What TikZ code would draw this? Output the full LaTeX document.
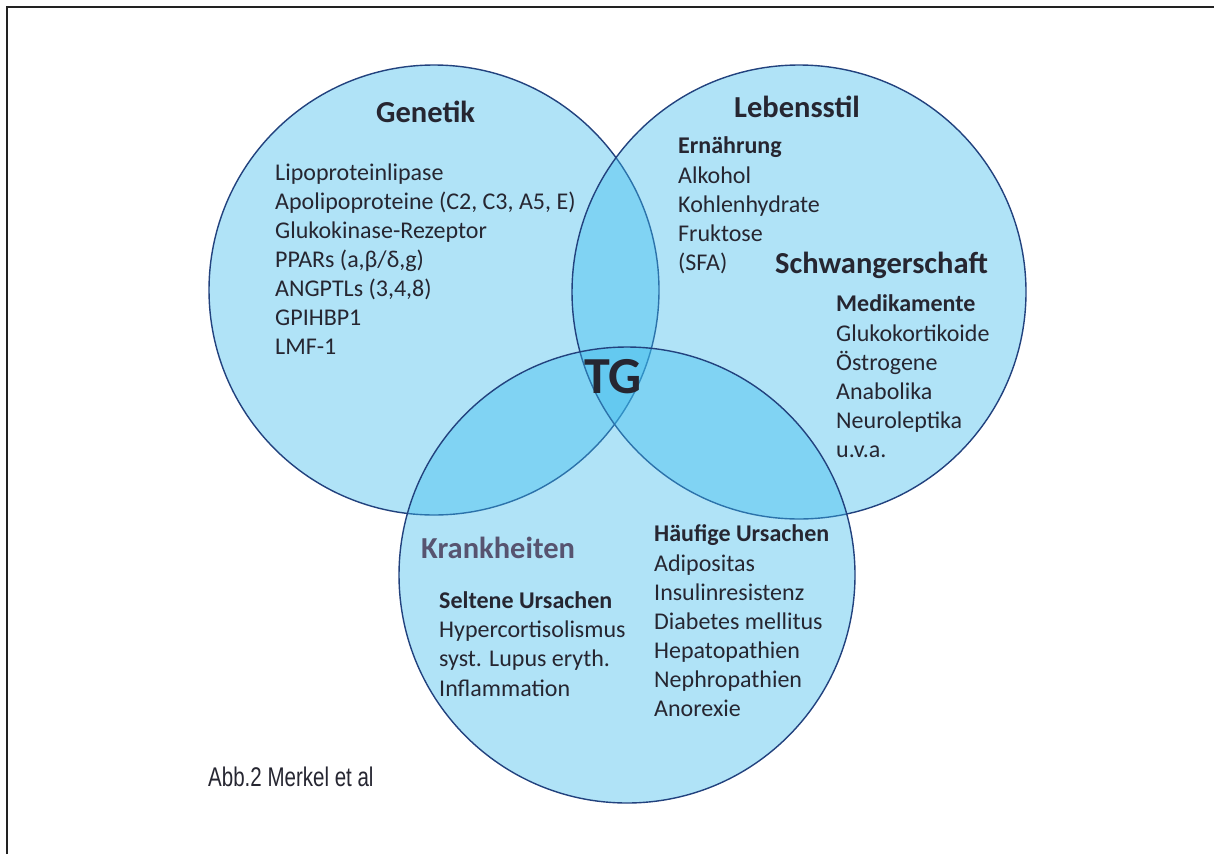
\documentclass[tikz,border=0pt]{standalone}
\usepackage{fontspec}
\setmainfont{Carlito}
\newfontfamily\abbfont[FakeStretch=0.76]{Liberation Sans}
\definecolor{vennfill}{HTML}{3ABBED}
\definecolor{vennline}{HTML}{22427E}
\definecolor{txt}{HTML}{262631}
\definecolor{krank}{HTML}{575470}
\definecolor{framec}{HTML}{222222}
\begin{document}
\begin{tikzpicture}[x=1pt,y=-1pt,
  venn/.style={draw=vennline, line width=1.4pt, fill=vennfill, fill opacity=0.4},
  head/.style={anchor=base west, inner sep=0, font=\fontsize{30.5}{36}\selectfont\bfseries, text=txt},
  sub/.style={anchor=base west, inner sep=0, font=\fontsize{24}{29}\selectfont\bfseries, text=txt},
  item/.style={anchor=base west, inner sep=0, font=\fontsize{24}{29}\selectfont, text=txt}]
\useasboundingbox (0,0) rectangle (1214,854);
\fill[white] (0,0) rectangle (1214,854);
\draw[line width=1.7pt, framec] (7.3,854) -- (7.3,7.3) -- (1214,7.3);
% circles
\draw[venn] (434,290) circle[radius=225pt];
\draw[venn] (799,292) circle[radius=227pt];
\draw[venn] (627,575) circle[radius=228pt];
% Genetik
\node[head] (gen) at (376,122) {Genetik};
\foreach \t [count=\i] in {Lipoproteinlipase, {Apolipoproteine (C2, C3, A5, E)}, Glukokinase-Rezeptor, {PPARs (a,β/δ,g)}, {ANGPTLs (3,4,8)}, GPIHBP1, LMF-1}
  \node[item] (g\i) at (275,{180+29*(\i-1)}) {\t};
% Lebensstil
\node[head] (leb) at (734,117) {Lebensstil};
\node[sub] (ern) at (678,153) {Ernährung};
\foreach \t [count=\i] in {Alkohol, Kohlenhydrate, Fruktose, (SFA)}
  \node[item] (e\i) at (678,{183+29*(\i-1)}) {\t};
\node[head] (schw) at (775,273) {Schwangerschaft};
\node[sub] (med) at (836,311) {Medikamente};
\foreach \t [count=\i] in {Glukokortikoide, Östrogene, Anabolika, Neuroleptika, u.v.a.}
  \node[item] (m\i) at (836,{341+29*(\i-1)}) {\t};
% TG
\node[anchor=base west, inner sep=0, font=\fontsize{52}{60}\selectfont\bfseries, text=txt] (tg) at (584,393) {TG};
% Krankheiten
\node[head, text=krank] (kra) at (421,558) {Krankheiten};
\node[sub] (hau) at (654,541) {Häufige Ursachen};
\foreach \t [count=\i] in {Adipositas, Insulinresistenz, Diabetes mellitus, Hepatopathien, Nephropathien, Anorexie}
  \node[item] (h\i) at (654,{571+29*(\i-1)}) {\t};
\node[sub] (sel) at (439,608) {Seltene Ursachen};
\foreach \t [count=\i] in {Hypercortisolismus, syst. Lupus eryth., Inflammation}
  \node[item] (s\i) at (439,{637+29.5*(\i-1)}) {\t};
% caption
\node[anchor=base west, inner sep=0, font=\abbfont\fontsize{27}{32}\selectfont, text=txt] (abb) at (208,786) {Abb.2 Merkel et al};
\end{tikzpicture}
\end{document}
